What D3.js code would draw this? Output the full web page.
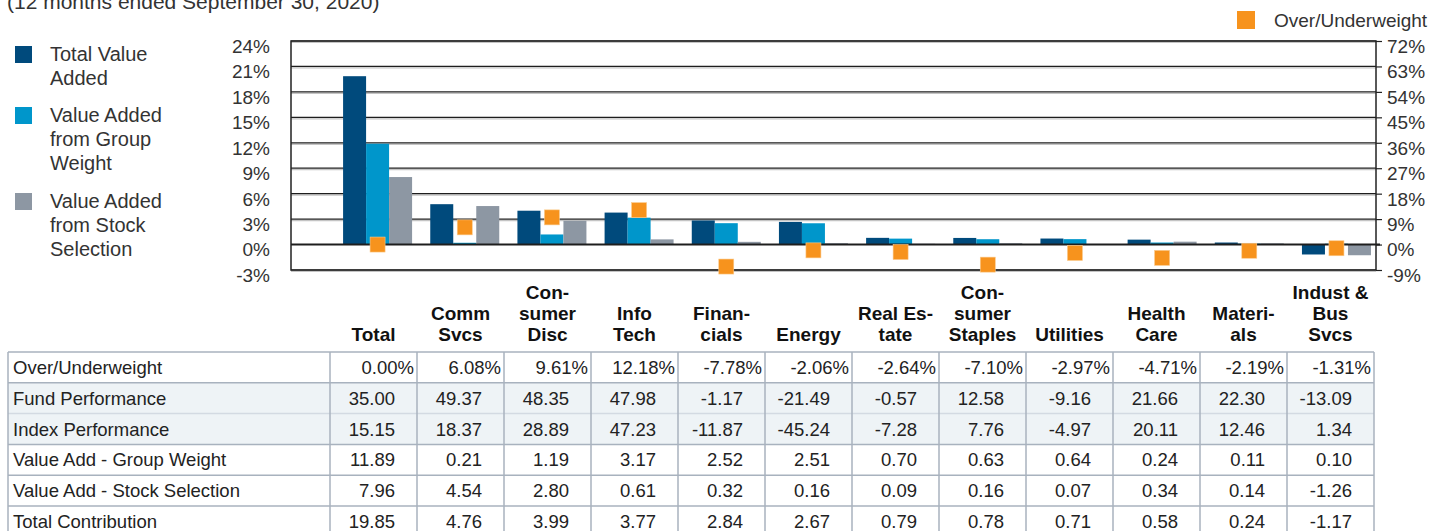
<!DOCTYPE html>
<html>
<head>
<meta charset="utf-8">
<script src="https://cdn.jsdelivr.net/npm/d3@7"></script>
<style>
  body { margin: 0; background: #fff; }
  text { font-family: "Liberation Sans", Arial, sans-serif; }
</style>
</head>
<body>
<script>
// Chart data
const categories = ['Total', 'Comm Svcs', 'Consumer Disc', 'Info Tech', 'Financials', 'Energy',
  'Real Estate', 'Consumer Staples', 'Utilities', 'Health Care', 'Materials', 'Indust & Bus Svcs']
const categoryLines = [['Total'], ['Comm', 'Svcs'], ['Con-', 'sumer', 'Disc'], ['Info', 'Tech'],
  ['Finan-', 'cials'], ['Energy'], ['Real Es-', 'tate'], ['Con-', 'sumer', 'Staples'], ['Utilities'],
  ['Health', 'Care'], ['Materi-', 'als'], ['Indust &', 'Bus', 'Svcs']]

const overUnder = [0.00, 6.08, 9.61, 12.18, -7.78, -2.06, -2.64, -7.10, -2.97, -4.71, -2.19, -1.31]
const fundPerf = [35.00, 49.37, 48.35, 47.98, -1.17, -21.49, -0.57, 12.58, -9.16, 21.66, 22.30, -13.09]
const indexPerf = [15.15, 18.37, 28.89, 47.23, -11.87, -45.24, -7.28, 7.76, -4.97, 20.11, 12.46, 1.34]
const groupWeight = [11.89, 0.21, 1.19, 3.17, 2.52, 2.51, 0.70, 0.63, 0.64, 0.24, 0.11, 0.10]
const stockSelection = [7.96, 4.54, 2.80, 0.61, 0.32, 0.16, 0.09, 0.16, 0.07, 0.34, 0.14, -1.26]
const totalContribution = [19.85, 4.76, 3.99, 3.77, 2.84, 2.67, 0.79, 0.78, 0.71, 0.58, 0.24, -1.17]

const leftTicks = [-3, 0, 3, 6, 9, 12, 15, 18, 21, 24]
const rightTicks = [-9, 0, 9, 18, 27, 36, 45, 54, 63, 72]

const barSeries = [
  { name: 'Total Value Added', values: totalContribution, color: '#004a7c' },
  { name: 'Value Added from Group Weight', values: groupWeight, color: '#0096cb' },
  { name: 'Value Added from Stock Selection', values: stockSelection, color: '#8d97a3' },
]

const tableRows = [
  { label: 'Over/Underweight', values: overUnder, pct: true, shade: false },
  { label: 'Fund Performance', values: fundPerf, shade: true },
  { label: 'Index Performance', values: indexPerf, shade: true },
  { label: 'Value Add - Group Weight', values: groupWeight, shade: false },
  { label: 'Value Add - Stock Selection', values: stockSelection, shade: false },
  { label: 'Total Contribution', values: totalContribution, shade: false },
]

const W = 1453, H = 531
const plot = { left: 291, right: 1376, top: 41, bottom: 270 }

const svg = d3.select('body').append('svg')
  .attr('width', W)
  .attr('height', H)

// Scales
const yL = d3.scaleLinear().domain([-3, 24]).range([plot.bottom, plot.top])
const yR = d3.scaleLinear().domain([-9, 72]).range([plot.bottom, plot.top])
const x = d3.scaleBand().domain(categories).range([334, 334 + 12 * 87.17])
const sub = d3.scaleBand().domain(d3.range(barSeries.length)).range([-34.5, 34.5])

// Partial title at top (cut off by the frame)
svg.append('text')
  .attr('x', 7).attr('y', 9)
  .attr('font-size', 21).attr('fill', '#333')
  .text('(12 months ended September 30, 2020)')

// Gridlines
const grid = svg.append('g')
leftTicks.filter((d) => d !== 0).forEach((d) => {
  grid.append('line')
    .attr('x1', plot.left).attr('x2', plot.right)
    .attr('y1', yL(d) + 1.5).attr('y2', yL(d) + 1.5)
    .attr('stroke', '#c4c4c4').attr('stroke-width', 1.2)
  grid.append('line')
    .attr('x1', plot.left).attr('x2', plot.right)
    .attr('y1', yL(d)).attr('y2', yL(d))
    .attr('stroke', '#1e1e1e').attr('stroke-width', 1.2)
})

// Bars
barSeries.forEach((s, k) => {
  svg.append('g')
    .selectAll('rect')
    .data(s.values)
    .join('rect')
    .attr('x', (d, i) => x(categories[i]) + x.bandwidth() / 2 + sub(k))
    .attr('width', sub.bandwidth())
    .attr('y', (d) => yL(Math.max(0, d)))
    .attr('height', (d) => Math.abs(yL(d) - yL(0)))
    .attr('fill', s.color)
})

// Zero line
svg.append('line')
  .attr('x1', plot.left).attr('x2', plot.right + 4)
  .attr('y1', yL(0)).attr('y2', yL(0))
  .attr('stroke', '#1e1e1e').attr('stroke-width', 2)

// Plot frame
svg.append('rect')
  .attr('x', plot.left).attr('y', plot.top)
  .attr('width', plot.right - plot.left).attr('height', plot.bottom - plot.top)
  .attr('fill', 'none').attr('stroke', '#222').attr('stroke-width', 1.5)

// Over/underweight markers (right axis)
svg.append('g')
  .selectAll('rect')
  .data(overUnder)
  .join('rect')
  .attr('x', (d, i) => x(categories[i]) + x.bandwidth() / 2 - 7.5)
  .attr('y', (d) => yR(d) - 7.5)
  .attr('width', 15).attr('height', 15)
  .attr('fill', '#f7931d')
  .attr('stroke', '#fbc98a').attr('stroke-width', 0.6)

// Axes
const leftAxis = svg.append('g')
  .attr('transform', `translate(${plot.left},0)`)
  .call(d3.axisLeft(yL).tickValues(leftTicks).tickFormat((d) => d + '%').tickSize(0).tickPadding(21))
const rightAxis = svg.append('g')
  .attr('transform', `translate(${plot.right},0)`)
  .call(d3.axisRight(yR).tickValues(rightTicks).tickFormat((d) => d + '%').tickSize(6).tickPadding(5))
;[leftAxis, rightAxis].forEach((a) => {
  a.select('.domain').remove()
  a.selectAll('line').attr('stroke', '#222').attr('stroke-width', 1.2)
  a.selectAll('text')
    .attr('font-family', '"Liberation Sans", Arial, sans-serif')
    .attr('font-size', 19).attr('fill', '#333').attr('dy', '0.6em')
})

// Category labels
const catG = svg.append('g')
categoryLines.forEach((lines, i) => {
  const t = catG.append('text')
    .attr('text-anchor', 'middle')
    .attr('font-size', 19).attr('font-weight', 'bold').attr('fill', '#111')
  lines.forEach((ln, j) => {
    t.append('tspan')
      .attr('x', 373.5 + i * 87)
      .attr('y', 341 - 21 * (lines.length - 1 - j))
      .text(ln)
  })
})

// Legend (left)
const legendItems = [
  { color: barSeries[0].color, y: 46, lines: ['Total Value', 'Added'] },
  { color: barSeries[1].color, y: 107, lines: ['Value Added', 'from Group', 'Weight'] },
  { color: barSeries[2].color, y: 193, lines: ['Value Added', 'from Stock', 'Selection'] },
]
legendItems.forEach((it) => {
  svg.append('rect')
    .attr('x', 15).attr('y', it.y).attr('width', 17).attr('height', 17)
    .attr('fill', it.color)
  const t = svg.append('text').attr('font-size', 20).attr('fill', '#333')
  it.lines.forEach((ln, j) => {
    t.append('tspan').attr('x', 50).attr('y', it.y + 15 + j * 24).text(ln)
  })
})

// Legend (top right)
svg.append('rect')
  .attr('x', 1237).attr('y', 11).attr('width', 18).attr('height', 18)
  .attr('fill', '#f7931d')
svg.append('text')
  .attr('x', 1274).attr('y', 27)
  .attr('font-size', 19).attr('fill', '#333')
  .text('Over/Underweight')

// Table
const tbl = { left: 8, top: 352, rowH: 30.8 }
const col = d3.scaleBand().domain(categories).range([330, 1374])
const border = '#a8b2be'
const tg = svg.append('g')

tableRows.forEach((r, ri) => {
  const y0 = tbl.top + ri * tbl.rowH
  if (r.shade) {
    tg.append('rect')
      .attr('x', tbl.left).attr('y', y0)
      .attr('width', 1374 - tbl.left).attr('height', tbl.rowH)
      .attr('fill', '#eef3f6')
  }
  tg.append('text')
    .attr('x', 13).attr('y', y0 + 22)
    .attr('font-size', 18.5).attr('fill', '#222')
    .text(r.label)
  r.values.forEach((v, i) => {
    tg.append('text')
      .attr('x', col(categories[i]) + col.bandwidth() - (r.pct ? 3 : 22))
      .attr('y', y0 + 22)
      .attr('text-anchor', 'end')
      .attr('font-size', 18.5).attr('fill', '#222')
      .text(r.pct ? v.toFixed(2) + '%' : v.toFixed(2))
  })
})

// Table grid lines
d3.range(tableRows.length + 1).forEach((ri) => {
  const y = tbl.top + ri * tbl.rowH
  tg.append('line')
    .attr('x1', tbl.left).attr('x2', 1374)
    .attr('y1', y).attr('y2', y)
    .attr('stroke', ri === 2 ? '#d3dae2' : border).attr('stroke-width', 1.5)
})
const colEdges = [tbl.left].concat(categories.map((c) => col(c)), [1374])
colEdges.forEach((cx) => {
  tg.append('line')
    .attr('x1', cx).attr('x2', cx)
    .attr('y1', tbl.top).attr('y2', H)
    .attr('stroke', border).attr('stroke-width', 1.5)
})
</script>
</body>
</html>
